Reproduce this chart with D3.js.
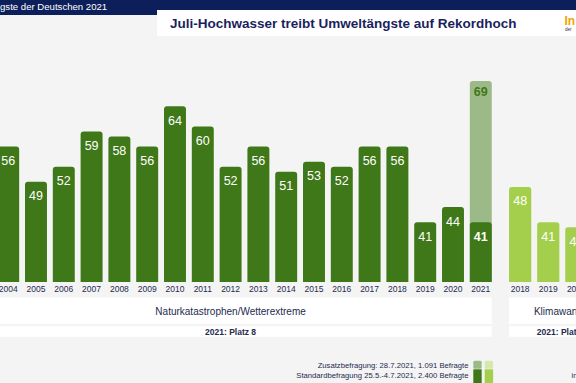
<!DOCTYPE html>
<html><head><meta charset="utf-8">
<script src="https://cdn.jsdelivr.net/npm/d3@7"></script>
<style>html,body{margin:0;padding:0;background:#f4f4f4;}svg{display:block;font-family:"Liberation Sans",Arial,sans-serif;}</style>
</head><body>
<svg id="c" width="576" height="383"></svg>
<script>
const natYears = ["2004","2005","2006","2007","2008","2009","2010","2011","2012","2013","2014","2015","2016","2017","2018","2019","2020","2021"];
const natValues = [56,49,52,59,58,56,64,60,52,56,51,53,52,56,56,41,44,41];
const natExtra = {year:"2021", value:69};
const klimaYears = ["2018","2019","2020","2021"];
const klimaValues = [48,41,40];
const groupLabels = ["Naturkatastrophen/Wetterextreme","Klimawandel"];
const rankLabels = ["2021: Platz 8","2021: Platz 4"];
const legendLabels = ["Zusatzbefragung: 28.7.2021, 1.091 Befragte","Standardbefragung 25.5.-4.7.2021, 2.400 Befragte"];
const titleText = "Juli-Hochwasser treibt Umweltängste auf Rekordhoch";
const headerText = "gste der Deutschen 2021";

const C = {dark:"#3f7818", darkLight:"#9cba88", klima:"#a4cf4c", klimaPale:"#d5e8b0", navy:"#0c1f5b", text:"#1e2a4e", orange:"#f0a400"};

const svg = d3.select("#c");
svg.append("rect").attr("width",576).attr("height",383).attr("fill","#f4f4f4");

// header
svg.append("rect").attr("x",0).attr("y",0).attr("width",576).attr("height",10).attr("fill",C.navy);
svg.append("rect").attr("x",0).attr("y",0).attr("width",157).attr("height",15).attr("fill",C.navy);
svg.append("text").attr("x",0).attr("y",10).attr("fill","#fff").attr("font-size",9.6).text(headerText);
svg.append("rect").attr("x",157).attr("y",10).attr("width",430).attr("height",26).attr("fill","#fff");
svg.append("text").attr("x",170).attr("y",28).attr("fill","#1b1f5e").attr("font-size",13.5).attr("font-weight","bold").text(titleText);
svg.append("text").attr("x",564.5).attr("y",25).attr("fill",C.orange).attr("font-size",12).attr("font-weight","bold").text("In");
svg.append("text").attr("x",565).attr("y",31).attr("fill",C.text).attr("font-size",4.5).text("der");

const y = d3.scaleLinear().domain([0,69]).range([429,81]);
const baseY = 282;
const xN = d3.scaleBand().domain(natYears).range([-5.72,494.7]).paddingInner(0.21).paddingOuter(0.105);
const xK = d3.scaleBand().domain(klimaYears).range([506.1,506.1+4*28.1]).paddingInner(0.21).paddingOuter(0.105);

svg.append("clipPath").attr("id","clip").append("rect").attr("x",-50).attr("y",0).attr("width",700).attr("height",baseY);
const g = svg.append("g").attr("clip-path","url(#clip)");

function bar(sel, x, yr, v, fill){
  sel.append("rect").attr("x",x(yr)).attr("y",y(v)).attr("width",x.bandwidth()).attr("height",baseY - y(v) + 10).attr("rx",3).attr("fill",fill);
}
// extra (light) bar behind
bar(g, xN, natExtra.year, natExtra.value, C.darkLight);
natYears.forEach((yr,i)=>bar(g, xN, yr, natValues[i], C.dark));
klimaValues.forEach((v,i)=>bar(g, xK, klimaYears[i], v, C.klima));

// value labels
natYears.forEach((yr,i)=>{
  const bold = yr==="2021";
  svg.append("text").attr("x",xN(yr)+xN.bandwidth()/2).attr("y",y(natValues[i])+18.5)
    .attr("text-anchor","middle").attr("fill","#fff").attr("font-size",12.5).attr("font-weight",bold?"bold":"normal").text(natValues[i]);
});
svg.append("text").attr("x",xN(natExtra.year)+xN.bandwidth()/2).attr("y",y(natExtra.value)+14.5)
  .attr("text-anchor","middle").attr("fill",C.dark).attr("font-size",12.5).attr("font-weight","bold").text(natExtra.value);
klimaValues.forEach((v,i)=>{
  svg.append("text").attr("x",xK(klimaYears[i])+xK.bandwidth()/2).attr("y",y(v)+18.5)
    .attr("text-anchor","middle").attr("fill","#fff").attr("font-size",12.5).text(v);
});

// year axis labels
[[xN,natYears],[xK,klimaYears]].forEach(([x,yrs])=>{
  yrs.forEach(yr=>{
    svg.append("text").attr("x",x(yr)+x.bandwidth()/2).attr("y",292).attr("text-anchor","middle")
      .attr("fill",C.text).attr("font-size",8.5).text(yr);
  });
});

// group panels
[[xN,natYears],[xK,klimaYears]].forEach(([x,yrs],i)=>{
  const x0 = (i===0) ? x(yrs[0]) - x.step() : x(yrs[0]);
  const x1 = x(yrs[yrs.length-1]) + x.bandwidth();
  const cx = (x0+x1)/2;
  svg.append("rect").attr("x",x0).attr("y",297.5).attr("width",x1-x0).attr("height",26.5).attr("fill","#fff");
  svg.append("rect").attr("x",x0).attr("y",326.3).attr("width",x1-x0).attr("height",10.5).attr("fill","#fff");
  svg.append("text").attr("x",cx).attr("y",314.5).attr("text-anchor","middle").attr("fill",C.text).attr("font-size",10).text(groupLabels[i]);
  svg.append("text").attr("x",cx).attr("y",334.6).attr("text-anchor","middle").attr("fill",C.text).attr("font-size",8.5).attr("font-weight","bold").text(rankLabels[i]);
});

// legend
svg.append("text").attr("x",468.5).attr("y",368.3).attr("text-anchor","end").attr("fill",C.text).attr("font-size",7.7).text(legendLabels[0]);
svg.append("text").attr("x",468.5).attr("y",378.3).attr("text-anchor","end").attr("fill",C.text).attr("font-size",7.7).text(legendLabels[1]);
[[C.darkLight,C.dark],[C.klimaPale,C.klima]].forEach(([top,bot],i)=>{
  const lx = 473.3 + i*11.4;
  svg.append("rect").attr("x",lx).attr("y",360.7).attr("width",8.4).attr("height",8).attr("rx",1.5).attr("fill",top);
  svg.append("rect").attr("x",lx).attr("y",369.3).attr("width",8.4).attr("height",16).attr("fill",bot);
});
svg.append("text").attr("x",571.5).attr("y",378).attr("fill",C.text).attr("font-size",7.5).text("in");
</script>
</body></html>
